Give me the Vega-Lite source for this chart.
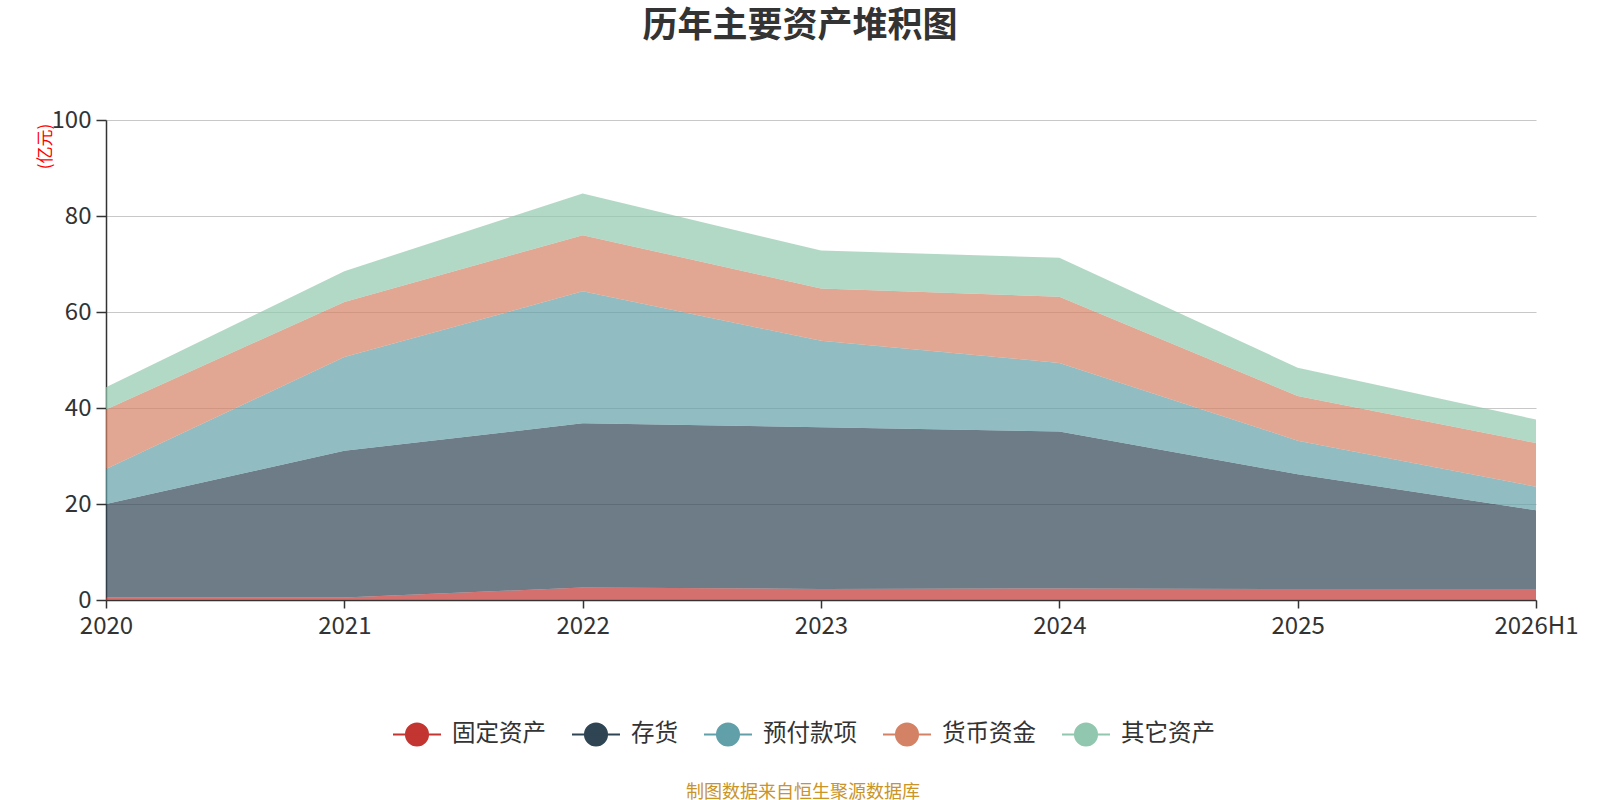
{
  "$schema": "https://vega.github.io/schema/vega-lite/v6.json",
  "width": 1430,
  "height": 480,
  "autosize": {"type": "none"},
  "padding": {"left": 106, "top": 120, "right": 64, "bottom": 200},
  "background": "white",
  "title": {
    "text": "历年主要资产堆积图",
    "fontSize": 35,
    "fontWeight": "bold",
    "color": "#333333",
    "font": "Noto Sans CJK SC",
    "anchor": "middle",
    "dx": -21,
    "offset": 64
  },
  "data": {
    "values": [
      {"年份": "2020", "类别": "固定资产", "值": 0.5},
      {"年份": "2020", "类别": "存货", "值": 19.5},
      {"年份": "2020", "类别": "预付款项", "值": 7.3},
      {"年份": "2020", "类别": "货币资金", "值": 12.4},
      {"年份": "2020", "类别": "其它资产", "值": 4.6},
      {"年份": "2021", "类别": "固定资产", "值": 0.5},
      {"年份": "2021", "类别": "存货", "值": 30.6},
      {"年份": "2021", "类别": "预付款项", "值": 19.5},
      {"年份": "2021", "类别": "货币资金", "值": 11.5},
      {"年份": "2021", "类别": "其它资产", "值": 6.4},
      {"年份": "2022", "类别": "固定资产", "值": 2.6},
      {"年份": "2022", "类别": "存货", "值": 34.2},
      {"年份": "2022", "类别": "预付款项", "值": 27.5},
      {"年份": "2022", "类别": "货币资金", "值": 11.7},
      {"年份": "2022", "类别": "其它资产", "值": 8.7},
      {"年份": "2023", "类别": "固定资产", "值": 2.3},
      {"年份": "2023", "类别": "存货", "值": 33.7},
      {"年份": "2023", "类别": "预付款项", "值": 18.0},
      {"年份": "2023", "类别": "货币资金", "值": 10.9},
      {"年份": "2023", "类别": "其它资产", "值": 7.9},
      {"年份": "2024", "类别": "固定资产", "值": 2.4},
      {"年份": "2024", "类别": "存货", "值": 32.7},
      {"年份": "2024", "类别": "预付款项", "值": 14.3},
      {"年份": "2024", "类别": "货币资金", "值": 13.8},
      {"年份": "2024", "类别": "其它资产", "值": 8.1},
      {"年份": "2025", "类别": "固定资产", "值": 2.3},
      {"年份": "2025", "类别": "存货", "值": 23.9},
      {"年份": "2025", "类别": "预付款项", "值": 7.0},
      {"年份": "2025", "类别": "货币资金", "值": 9.3},
      {"年份": "2025", "类别": "其它资产", "值": 5.9},
      {"年份": "2026H1", "类别": "固定资产", "值": 2.3},
      {"年份": "2026H1", "类别": "存货", "值": 16.4},
      {"年份": "2026H1", "类别": "预付款项", "值": 4.9},
      {"年份": "2026H1", "类别": "货币资金", "值": 9.1},
      {"年份": "2026H1", "类别": "其它资产", "值": 4.9}
    ]
  },
  "transform": [
    {"calculate": "indexof(['固定资产', '存货', '预付款项', '货币资金', '其它资产'], datum['类别'])", "as": "堆叠顺序"}
  ],
  "mark": {"type": "area", "opacity": 0.7, "interpolate": "linear"},
  "encoding": {
    "x": {
      "field": "年份",
      "type": "ordinal",
      "sort": ["2020", "2021", "2022", "2023", "2024", "2025", "2026H1"],
      "scale": {"type": "point", "padding": 0},
      "axis": {
        "title": null,
        "labelAngle": 0,
        "labelFontSize": 24,
        "labelColor": "#333333",
        "labelPadding": 6,
        "tickSize": 8,
        "tickColor": "#333333",
        "domainColor": "#333333",
        "domainWidth": 1.5,
        "tickWidth": 1.5,
        "grid": false
      }
    },
    "y": {
      "field": "值",
      "type": "quantitative",
      "aggregate": "sum",
      "stack": "zero",
      "scale": {"domain": [0, 100]},
      "axis": {
        "title": "(亿元)",
        "titleColor": "red",
        "titleFontSize": 17,
        "titleFontWeight": "normal",
        "titleX": -61,
        "titleY": 26,
        "titleAngle": -90,
        "titleAlign": "center",
        "titleBaseline": "middle",
        "values": [0, 20, 40, 60, 80, 100],
        "labelFontSize": 24,
        "labelColor": "#333333",
        "labelPadding": 5,
        "tickSize": 10,
        "tickColor": "#333333",
        "tickWidth": 1.5,
        "domainColor": "#333333",
        "domainWidth": 1.5,
        "gridColor": "#c8c8c8",
        "gridWidth": 1.2
      }
    },
    "order": {"field": "堆叠顺序", "type": "quantitative", "sort": "ascending"},
    "color": {
      "field": "类别",
      "type": "nominal",
      "sort": ["固定资产", "存货", "预付款项", "货币资金", "其它资产"],
      "scale": {
        "domain": ["固定资产", "存货", "预付款项", "货币资金", "其它资产"],
        "range": ["#c23531", "#2f4554", "#61a0a8", "#d48265", "#91c7ae"]
      },
      "legend": {
        "orient": "none",
        "direction": "horizontal",
        "legendX": 286,
        "legendY": 589,
        "title": "制图数据来自恒生聚源数据库",
        "titleOrient": "bottom",
        "titleAnchor": "middle",
        "titleColor": "#c99428",
        "titleFontSize": 18,
        "titleFontWeight": "normal",
        "titlePadding": 34,
        "titleLimit": 1000,
        "labelFontSize": 23.5,
        "labelColor": "#333333",
        "labelOffset": 10,
        "labelLimit": 400,
        "columnPadding": 22,
        "symbolType": "M-1,0L1,0M0.46,0A0.46,0.46,0,1,1,-0.46,0A0.46,0.46,0,1,1,0.46,0Z",
        "symbolSize": 2304,
        "symbolOpacity": 1,
        "symbolStrokeWidth": 2,
        "encode": {
          "symbols": {
            "update": {
              "stroke": {"scale": "color", "field": "value"},
              "fill": {"scale": "color", "field": "value"},
              "opacity": {"value": 1}
            }
          }
        }
      }
    }
  },
  "config": {
    "font": "Noto Sans CJK SC",
    "view": {"stroke": null}
  }
}
